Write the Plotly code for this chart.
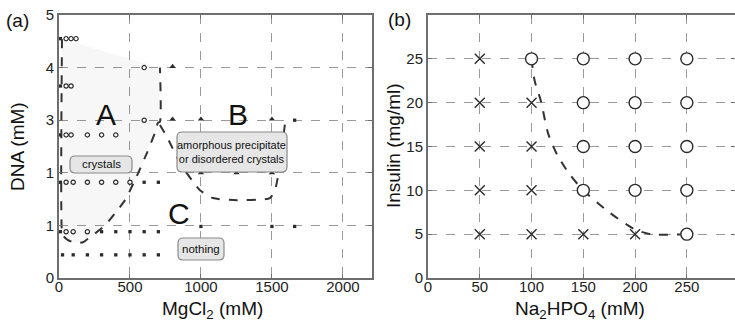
import plotly.graph_objects as go

# ---------------- Panel (a) data ----------------
a_circle_x = [50, 85, 120, 50, 85, 50, 85, 200, 300, 400,
              50, 100, 200, 300, 400, 500, 50, 100, 200, 600, 600]
a_circle_y = [4.55, 4.55, 4.55, 3.65, 3.65, 2.72, 2.72, 2.72, 2.72, 2.72,
              1.82, 1.82, 1.82, 1.82, 1.82, 1.82, 0.88, 0.88, 0.88, 4.0, 3.0]
a_square_x = [10, 10, 10, 10, 10, 600, 700, 300, 400, 500, 600, 700,
              25, 100, 200, 300, 400, 500, 600, 700, 1660, 1000, 1500, 1660]
a_square_y = [4.55, 3.65, 2.72, 1.82, 0.88, 1.82, 1.82, 0.88, 0.88, 0.88, 0.88, 0.88,
              0.44, 0.44, 0.44, 0.44, 0.44, 0.44, 0.44, 0.44, 3.0, 0.98, 0.98, 0.98]
a_tri_x = [800, 800, 1000, 1500, 1000, 1250, 1500]
a_tri_y = [4.02, 3.02, 3.02, 3.02, 2.0, 2.0, 2.0]

# boundary A (crystals)
bA_x = [21, 21, 30, 63, 113, 169, 240, 324, 394, 465, 535, 620, 676, 697, 711, 711]
bA_y = [4.54, 0.87, 0.80, 0.72, 0.67, 0.68, 0.82, 1.0, 1.23, 1.48, 1.86, 2.38, 2.76, 2.95, 2.97, 4.0]
# boundary B (amorphous)
bB_x = [711, 761, 852, 944, 993, 1085, 1254, 1486, 1521, 1542, 1592]
bB_y = [2.91, 2.68, 2.19, 1.83, 1.67, 1.52, 1.48, 1.52, 1.67, 1.92, 2.93]

a_ytick_vals = [0, 1, 2, 3, 4, 5]
a_ytick_text = ["0", "1", "1", "3", "4", "5"]
a_xtick_vals = [0, 500, 1000, 1500, 2000]

# ---------------- Panel (b) data ----------------
b_x_x = [50, 50, 50, 50, 50, 100, 100, 100, 100, 150, 200]
b_x_y = [5, 10, 15, 20, 25, 5, 10, 15, 20, 5, 5]
b_o_x = [100, 150, 150, 150, 150, 200, 200, 200, 200, 250, 250, 250, 250, 250]
b_o_y = [25, 10, 15, 20, 25, 10, 15, 20, 25, 5, 10, 15, 20, 25]
b_curve_x = [100, 103, 109, 116, 125, 137, 150, 175, 199, 215, 250]
b_curve_y = [25, 22.5, 20.2, 16.5, 14.0, 11.8, 10.0, 7.5, 5.6, 5.0, 5.0]
b_xtick_vals = [0, 50, 100, 150, 200, 250]
b_ytick_vals = [0, 5, 10, 15, 20, 25]

W, H = 735, 326
INK = "#2b2b2b"
FONT = "Liberation Sans, Arial, sans-serif"

fig = go.Figure()

# faint shading of region A
fig.add_trace(go.Scatter(x=bA_x, y=bA_y, mode="none", fill="toself",
                         fillcolor="rgba(0,0,0,0.03)", xaxis="x", yaxis="y",
                         hoverinfo="skip", showlegend=False))
for bx, by in [(bA_x, bA_y), (bB_x, bB_y)]:
    fig.add_trace(go.Scatter(x=bx, y=by, mode="lines", xaxis="x", yaxis="y",
                             line=dict(color="#333", width=2, dash="dash", shape="spline", smoothing=0.6),
                             showlegend=False))
fig.add_trace(go.Scatter(x=a_circle_x, y=a_circle_y, mode="markers", xaxis="x", yaxis="y",
                         marker=dict(symbol="circle", size=4.3, color="white",
                                     line=dict(width=1.2, color=INK)),
                         showlegend=False))
fig.add_trace(go.Scatter(x=a_square_x, y=a_square_y, mode="markers", xaxis="x", yaxis="y",
                         marker=dict(symbol="square", size=3.3, color=INK),
                         showlegend=False))
fig.add_trace(go.Scatter(x=a_tri_x, y=a_tri_y, mode="markers", xaxis="x", yaxis="y",
                         marker=dict(symbol="triangle-up", size=5.5, color=INK),
                         showlegend=False))

# panel b
fig.add_trace(go.Scatter(x=b_curve_x, y=b_curve_y, mode="lines", xaxis="x2", yaxis="y2",
                         line=dict(color="#333", width=2, dash="dash", shape="spline", smoothing=0.8),
                         showlegend=False))
fig.add_trace(go.Scatter(x=b_x_x, y=b_x_y, mode="markers", xaxis="x2", yaxis="y2",
                         marker=dict(symbol="x-thin-open", size=10, color=INK, line=dict(width=1.4, color=INK)),
                         showlegend=False))
fig.add_trace(go.Scatter(x=b_o_x, y=b_o_y, mode="markers", xaxis="x2", yaxis="y2",
                         marker=dict(symbol="circle", size=12, color="white",
                                     line=dict(width=1.4, color=INK)),
                         showlegend=False))

def px(x):
    return x / W

def py(y):
    return 1 - y / H

ydom = [py(278), py(15)]
axis_common = dict(showline=True, linecolor="#6e6e6e", linewidth=2, mirror="allticks",
                   ticks="inside", ticklen=4, tickcolor="#6e6e6e", tickwidth=1,
                   showgrid=True, gridcolor="#9a9a9a", gridwidth=1, griddash="dash",
                   zeroline=False, tickfont=dict(family=FONT, size=15, color="#222"),
                   fixedrange=True, automargin=False)

fig.update_layout(
    template="none",
    width=W, height=H, autosize=False,
    margin=dict(l=0, r=0, t=0, b=0, pad=0),
    paper_bgcolor="white", plot_bgcolor="white",
    font=dict(family=FONT, color="#222"),
    xaxis=dict(domain=[px(59), px(372)], range=[0, 2205], tickmode="array",
               tickvals=a_xtick_vals, anchor="y", ticklabelstandoff=-6, **axis_common),
    yaxis=dict(domain=ydom, range=[0, 5], tickmode="array", tickvals=a_ytick_vals,
               ticktext=a_ytick_text, anchor="x", **axis_common),
    xaxis2=dict(domain=[px(428), 1.0], range=[0, 296.5], tickmode="array",
                tickvals=b_xtick_vals, anchor="y2", ticklabelstandoff=-6, **axis_common),
    yaxis2=dict(domain=ydom, range=[0, 30], tickmode="array", tickvals=b_ytick_vals,
                anchor="x2", **axis_common),
)

def rounded_box(x0, y0, x1, y1, r=5):
    # pixel coords -> paper path with rounded corners
    def P(x, y):
        return f"{px(x):.5f},{py(y):.5f}"
    return (f"M {P(x0 + r, y0)} L {P(x1 - r, y0)} Q {P(x1, y0)} {P(x1, y0 + r)} "
            f"L {P(x1, y1 - r)} Q {P(x1, y1)} {P(x1 - r, y1)} "
            f"L {P(x0 + r, y1)} Q {P(x0, y1)} {P(x0, y1 - r)} "
            f"L {P(x0, y0 + r)} Q {P(x0, y0)} {P(x0 + r, y0)} Z")

boxes = [(70, 156, 132, 173), (177, 132, 287, 172), (178, 238, 224, 260)]
for b in boxes:
    fig.add_shape(type="path", path=rounded_box(*b), xref="paper", yref="paper",
                  fillcolor="#e6e6e6", line=dict(color="#8a8a8a", width=1.2), layer="above")

def ann(text, x, y, size, angle=0, xanchor="center"):
    fig.add_annotation(text=text, x=px(x), y=py(y), xref="paper", yref="paper",
                       showarrow=False, textangle=angle, xanchor=xanchor, yanchor="middle",
                       font=dict(family=FONT, size=size, color="#111"))

ann("crystals", 101, 164, 11.5)
ann("amorphous precipitate<br>or disordered crystals", 232, 152, 11)
ann("nothing", 201, 249, 11.5)
ann("A", 106, 114, 30)
ann("B", 238, 114, 30)
ann("C", 179, 213, 30)
ann("(a)", 4, 21, 19, xanchor="left")
ann("(b)", 386, 20, 19, xanchor="left")
ann("MgCl<sub>2</sub> (mM)", 213, 310, 19)
ann("Na<sub>2</sub>HPO<sub>4</sub> (mM)", 580, 310, 19)
ann("DNA (mM)", 17, 147, 19, angle=-90)
ann("Insulin (mg/ml)", 393, 146, 19, angle=-90)

fig.write_html("out.html", config={"displayModeBar": False},
               post_script="document.body.style.margin='0';document.body.style.overflow='hidden';")
